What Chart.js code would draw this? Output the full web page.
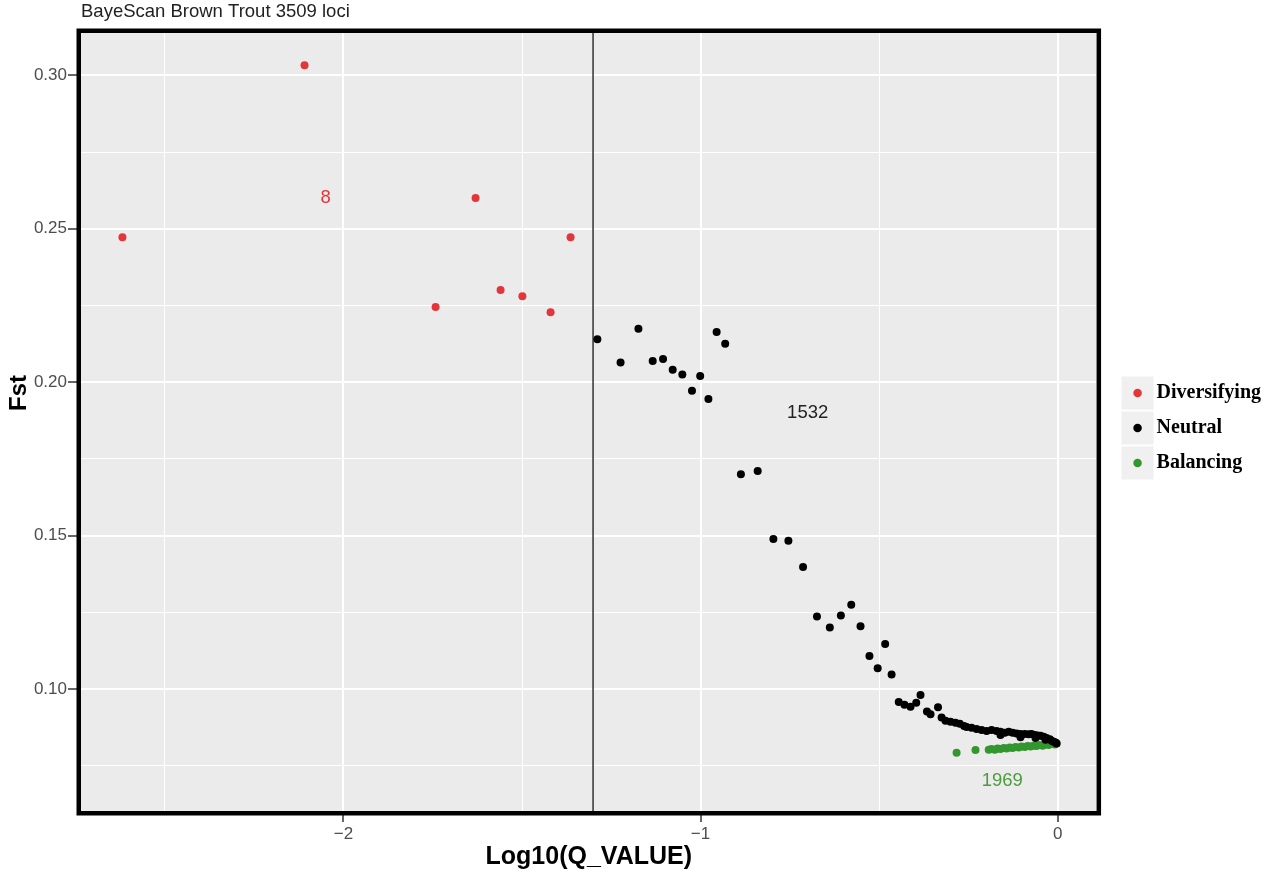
<!DOCTYPE html>
<html>
<head>
<meta charset="utf-8">
<title>BayeScan Brown Trout 3509 loci</title>
<script src="https://cdn.jsdelivr.net/npm/chart.js@4/dist/chart.umd.min.js"></script>
<style>
    html, body { margin: 0; padding: 0; background: #ffffff; }
    #wrap { width: 1266px; height: 872px; position: relative; }
</style>
</head>
<body>
<div id="wrap"><canvas id="fstChart"></canvas></div>
<script>
// categories
const seriesNames = ['Diversifying', 'Neutral', 'Balancing'];

// [log10(q), Fst]
const diversifyingPoints = [
    [-2.619, 0.2472], [-2.109, 0.3033], [-1.742, 0.2245], [-1.630, 0.2600],
    [-1.560, 0.2300], [-1.499, 0.2280], [-1.420, 0.2228], [-1.364, 0.2472]
];

const neutralPoints = [
    [-1.289, 0.2140], [-1.224, 0.2064], [-1.174, 0.2174], [-1.134, 0.2069],
    [-1.105, 0.2075], [-1.078, 0.2040], [-1.051, 0.2025], [-1.024, 0.1972],
    [-1.001, 0.2020], [-0.978, 0.1945], [-0.955, 0.2163], [-0.931, 0.2125],
    [-0.887, 0.1700], [-0.840, 0.1710], [-0.796, 0.1489], [-0.754, 0.1483],
    [-0.713, 0.1397], [-0.674, 0.1236], [-0.638, 0.1200], [-0.607, 0.1239],
    [-0.578, 0.1274], [-0.552, 0.1204], [-0.527, 0.1107], [-0.504, 0.1067],
    [-0.483, 0.1146], [-0.465, 0.1047], [-0.445, 0.0957], [-0.429, 0.0948],
    [-0.412, 0.0942], [-0.396, 0.0955], [-0.384, 0.0980], [-0.366, 0.0926],
    [-0.356, 0.0917], [-0.335, 0.0940], [-0.325, 0.0907], [-0.314, 0.0896],
    [-0.300, 0.0893], [-0.286, 0.0890], [-0.274, 0.0886], [-0.262, 0.0879],
    [-0.255, 0.0876], [-0.241, 0.0873], [-0.227, 0.0869], [-0.213, 0.0866],
    [-0.199, 0.0863], [-0.185, 0.0866], [-0.171, 0.0863], [-0.160, 0.0860],
    [-0.148, 0.0857], [-0.137, 0.0860], [-0.126, 0.0857], [-0.115, 0.0855],
    [-0.104, 0.0853], [-0.092, 0.0853], [-0.081, 0.0852], [-0.073, 0.0853],
    [-0.064, 0.0850], [-0.056, 0.0848], [-0.048, 0.0847], [-0.039, 0.0844],
    [-0.031, 0.0840], [-0.022, 0.0836], [-0.017, 0.0831], [-0.011, 0.0828],
    [-0.006, 0.0825], [-0.003, 0.0822], [-0.160, 0.0850], [-0.104, 0.0842],
    [-0.062, 0.0840], [-0.034, 0.0834]
];

const balancingPoints = [
    [-0.283, 0.0792], [-0.230, 0.0801], [-0.193, 0.0802], [-0.185, 0.0804],
    [-0.176, 0.0802], [-0.168, 0.0806], [-0.160, 0.0804], [-0.151, 0.0807],
    [-0.143, 0.0806], [-0.134, 0.0809], [-0.126, 0.0807], [-0.118, 0.0811],
    [-0.109, 0.0809], [-0.101, 0.0812], [-0.092, 0.0811], [-0.084, 0.0814],
    [-0.076, 0.0812], [-0.067, 0.0815], [-0.059, 0.0814], [-0.050, 0.0817],
    [-0.042, 0.0815], [-0.034, 0.0819], [-0.025, 0.0817], [-0.017, 0.0820],
    [-0.008, 0.0819], [-0.003, 0.0822]
];

// counts written on the panel: [text, x, y]
const countLabels = [
    ['8', -2.05, 0.2599],
    ['1532', -0.70, 0.1900],
    ['1969', -0.155, 0.0700]
];

// q = 0.05 cut-off
const qThreshold = Math.log10(0.05);

// tick positions and labels (empty label = minor grid line)
const xTickValues = [-2.5, -2, -1.5, -1, -0.5, 0];
const xTickLabels = ['', '\u22122', '', '\u22121', '', '0'];
const yTickValues = [0.075, 0.10, 0.125, 0.15, 0.175, 0.20, 0.225, 0.25, 0.275, 0.30];
const yTickLabels = ['', '0.10', '', '0.15', '', '0.20', '', '0.25', '', '0.30'];

const seriesColors = ['#E4353A', '#000000', '#33962F'];
const labelColors = ['#E4353A', '#222222', '#4C9A3E'];

const legendFontSize = 20;

function toXY(list) {
    return list.map(p => ({ x: p[0], y: p[1] }));
}

const panelPlugin = {
    id: 'panel',
    beforeDraw(chart) {
        const { ctx, chartArea } = chart;
        ctx.save();
        ctx.fillStyle = '#EBEBEB';
        ctx.fillRect(chartArea.left, chartArea.top, chartArea.right - chartArea.left, chartArea.bottom - chartArea.top);
        // grey key boxes behind legend markers
        const legend = chart.legend;
        if (legend && legend.legendHitBoxes) {
            ctx.fillStyle = '#F0F0F0';
            legend.legendHitBoxes.forEach(hb => {
                const cx = hb.left + 9;
                const cy = hb.top + legendFontSize / 2;
                ctx.fillRect(cx - 16, cy - 16.5, 32, 33);
            });
        }
        ctx.restore();
    },
    afterLayout(chart) {
        // ggplot leaves a gap between the panel and the legend keys
        const legend = chart.legend;
        if (legend) {
            legend.left += 17;
            legend.right += 17;
            legend.top -= 8;
            legend.bottom -= 8;
        }
    },
    beforeDatasetsDraw(chart) {
        const { ctx, chartArea, scales } = chart;
        const x = scales.x.getPixelForValue(qThreshold);
        ctx.save();
        ctx.strokeStyle = '#333333';
        ctx.lineWidth = 1.5;
        ctx.beginPath();
        ctx.moveTo(x, chartArea.top);
        ctx.lineTo(x, chartArea.bottom);
        ctx.stroke();
        ctx.restore();
    },
    afterDatasetsDraw(chart) {
        const { ctx, scales } = chart;
        ctx.save();
        ctx.font = '18.5px "Liberation Sans", Arial, sans-serif';
        ctx.textAlign = 'center';
        ctx.textBaseline = 'middle';
        countLabels.forEach((lab, i) => {
            ctx.fillStyle = labelColors[i];
            ctx.fillText(lab[0], scales.x.getPixelForValue(lab[1]), scales.y.getPixelForValue(lab[2]));
        });
        ctx.restore();
    },
    afterDraw(chart) {
        const { ctx, chartArea } = chart;
        ctx.save();
        ctx.strokeStyle = '#000000';
        ctx.lineWidth = 4.5;
        ctx.strokeRect(chartArea.left - 2.25, chartArea.top - 2.25,
            chartArea.right - chartArea.left + 4.5, chartArea.bottom - chartArea.top + 4.5);
        // y axis title
        ctx.fillStyle = '#000000';
        ctx.font = 'bold 24px "Liberation Sans", Arial, sans-serif';
        ctx.translate(19, 393);
        ctx.rotate(-Math.PI / 2);
        ctx.textAlign = 'center';
        ctx.textBaseline = 'middle';
        ctx.fillText('Fst', 0, 0);
        ctx.restore();
    }
};

function FstChart() {
    const ctx = document.getElementById('fstChart').getContext('2d');

    Chart.defaults.font.family = '"Liberation Sans", Arial, sans-serif';

    const data = {
        datasets: [
            {
                label: seriesNames[0],
                data: toXY(diversifyingPoints),
                backgroundColor: seriesColors[0],
                borderColor: seriesColors[0]
            },
            {
                label: seriesNames[1],
                data: toXY(neutralPoints),
                backgroundColor: seriesColors[1],
                borderColor: seriesColors[1]
            },
            {
                label: seriesNames[2],
                data: toXY(balancingPoints),
                backgroundColor: seriesColors[2],
                borderColor: seriesColors[2]
            }
        ]
    };

    const options = {
        responsive: true,
        maintainAspectRatio: false,
        animation: false,
        layout: {
            padding: { left: 0, right: 12, top: 0, bottom: 0 }
        },
        elements: {
            point: { radius: 4, borderWidth: 0, hoverRadius: 4, pointStyle: 'circle' }
        },
        scales: {
            x: {
                type: 'linear',
                min: -2.735,
                max: 0.109,
                afterBuildTicks: (scale) => { scale.ticks = xTickValues.map(v => ({ value: v })); },
                afterFit: (scale) => { scale.height = 61; },
                border: { display: false },
                grid: {
                    color: '#FFFFFF',
                    lineWidth: (c) => (xTickLabels[c.index] ? 2 : 1),
                    tickColor: (c) => (xTickLabels[c.index] ? '#333333' : 'rgba(0,0,0,0)'),
                    tickWidth: 1.5,
                    tickLength: 11
                },
                ticks: {
                    autoSkip: false,
                    maxRotation: 0,
                    padding: 2,
                    color: '#4D4D4D',
                    font: { size: 17 },
                    callback: (value, index) => xTickLabels[index]
                },
                title: {
                    display: true,
                    text: 'Log10(Q_VALUE)',
                    color: '#000000',
                    font: { size: 25, weight: 'bold' },
                    padding: { top: 0, bottom: 0 }
                }
            },
            y: {
                type: 'linear',
                min: 0.0602,
                max: 0.3138,
                afterBuildTicks: (scale) => { scale.ticks = yTickValues.map(v => ({ value: v })); },
                afterFit: (scale) => { scale.width = 81; },
                border: { display: false },
                grid: {
                    color: '#FFFFFF',
                    lineWidth: (c) => (yTickLabels[c.index] ? 2 : 1),
                    tickColor: (c) => (yTickLabels[c.index] ? '#333333' : 'rgba(0,0,0,0)'),
                    tickWidth: 1.5,
                    tickLength: 13
                },
                ticks: {
                    autoSkip: false,
                    padding: 1,
                    color: '#4D4D4D',
                    font: { size: 17 },
                    callback: (value, index) => yTickLabels[index]
                }
            }
        },
        plugins: {
            title: {
                display: true,
                text: 'BayeScan Brown Trout 3509 loci',
                align: 'start',
                fullSize: false,
                color: '#222222',
                font: { size: 18.5, weight: 'normal' },
                padding: { top: 1, bottom: 9.8 }
            },
            legend: {
                position: 'right',
                align: 'center',
                labels: {
                    usePointStyle: true,
                    pointStyle: 'circle',
                    boxWidth: 18,
                    boxHeight: 6,
                    padding: 15,
                    color: '#000000',
                    font: { family: '"Liberation Serif", "Times New Roman", serif', size: legendFontSize, weight: 'bold' }
                }
            },
            tooltip: { enabled: false }
        }
    };

    const config = {
        type: 'scatter',
        data: data,
        options: options,
        plugins: [panelPlugin]
    };

    return new Chart(ctx, config);
};

FstChart();
</script>
</body>
</html>
